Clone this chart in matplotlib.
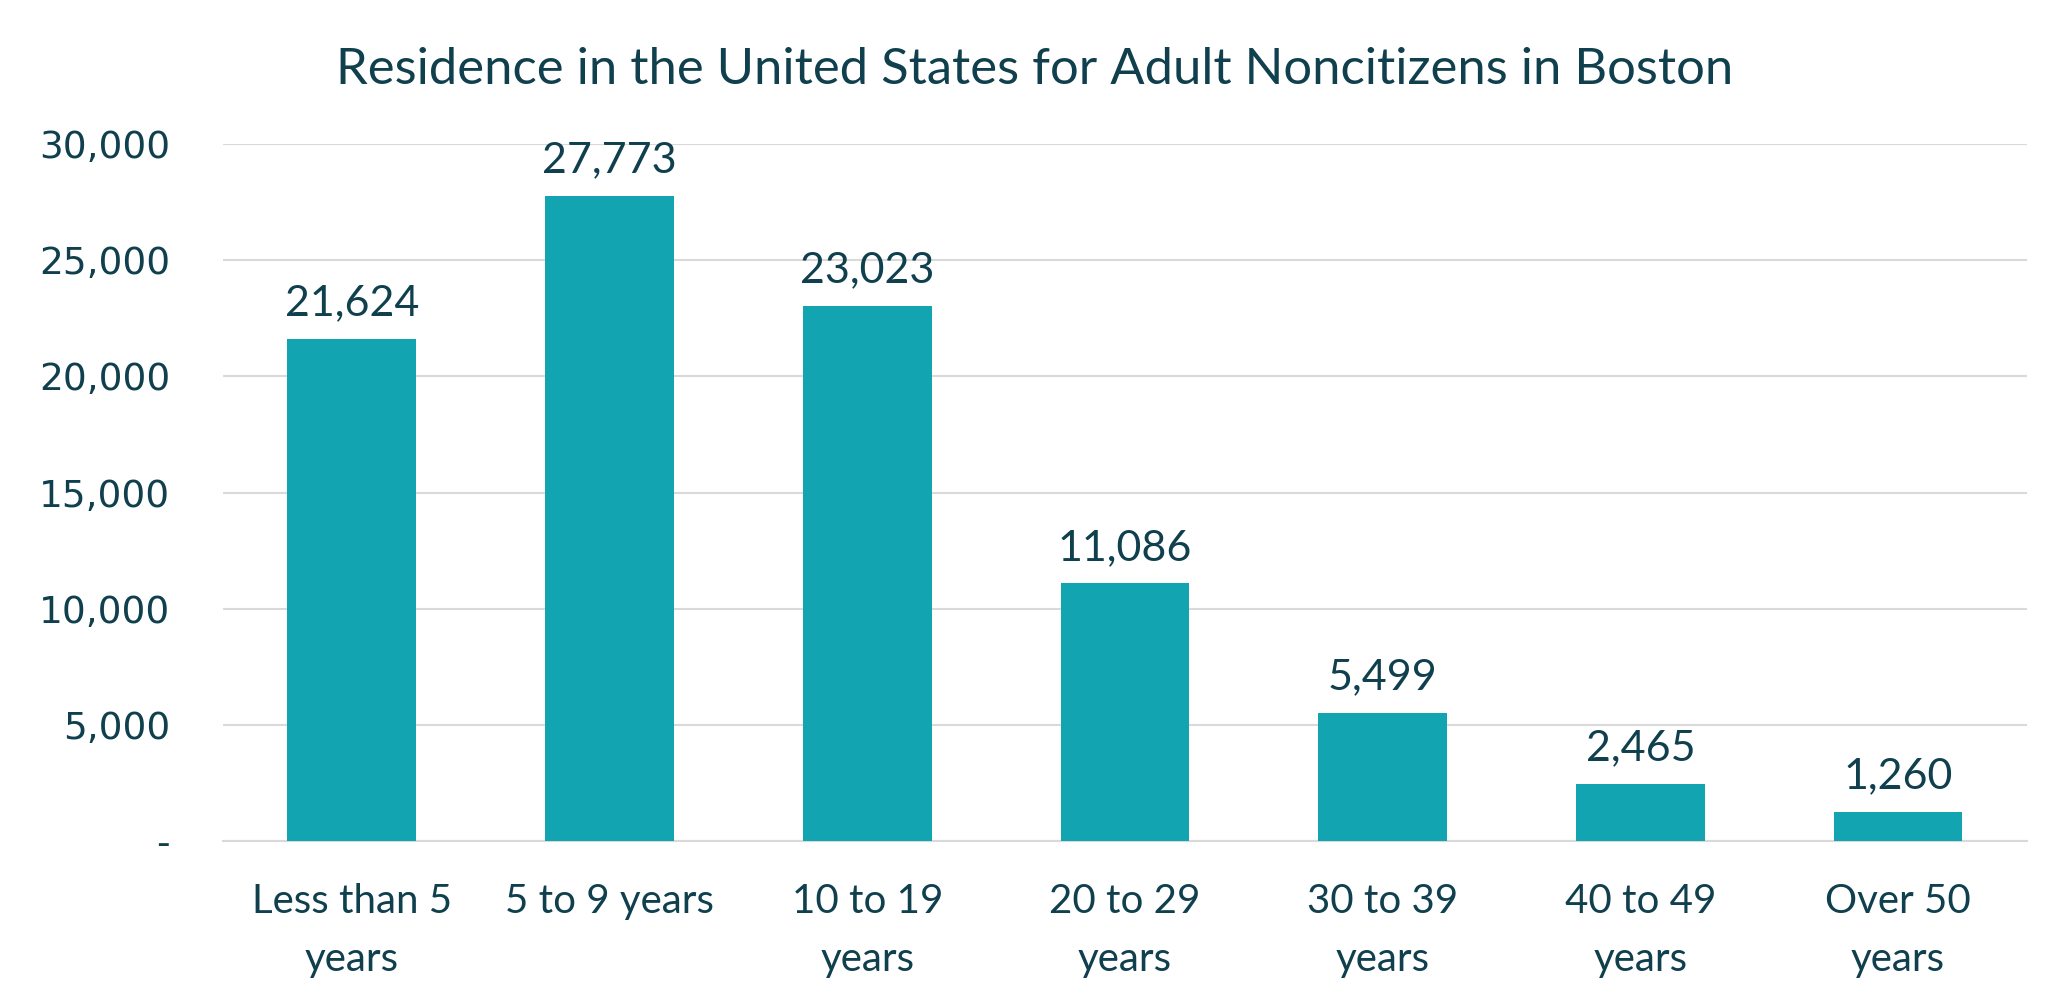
import matplotlib
matplotlib.use('Agg')
import matplotlib.pyplot as plt
from matplotlib.ticker import FuncFormatter, MultipleLocator

# chart data
categories = ['Less than 5\nyears', '5 to 9 years', '10 to 19\nyears', '20 to 29\nyears',
              '30 to 39\nyears', '40 to 49\nyears', 'Over 50\nyears']
residents = [21624, 27773, 23023, 11086, 5499, 2465, 1260]

bar_color = '#12A4B1'
text_color = '#10404E'
grid_color = '#D9D9D9'

fig = plt.figure(figsize=(20.53, 9.98), dpi=100)
ax = fig.add_axes([0.1086, 0.1573, 0.8787, 0.6984])

x = list(range(len(categories)))
bars = ax.bar(x, residents, width=0.5, color=bar_color, zorder=3)

# data labels above the bars
for xi, val in zip(x, residents):
    ax.annotate(f'{val:,}', (xi, val), xytext=(0, 12), textcoords='offset points',
                ha='center', va='bottom', fontsize=31, color=text_color, family='Lato')

ax.set_xlim(-0.5, len(categories) - 0.5)
ax.set_ylim(0, 30000)
ax.yaxis.set_major_locator(MultipleLocator(5000))
ax.yaxis.set_major_formatter(FuncFormatter(lambda v, p: '-' if v == 0 else f'{v:,.0f}'))
ax.grid(axis='y', color=grid_color, linewidth=1.5, zorder=0)
ax.set_axisbelow(True)

for s in ['top', 'right', 'left']:
    ax.spines[s].set_visible(False)
ax.spines['bottom'].set_color(grid_color)
ax.spines['bottom'].set_linewidth(1.5)

ax.set_xticks(x)
ax.set_xticklabels(categories, fontsize=29, color=text_color, family='Lato', linespacing=1.7)
ax.tick_params(axis='x', length=0, pad=30)
ax.tick_params(axis='y', length=0, pad=38, labelsize=27, labelcolor=text_color)

fig.text(0.504, 0.916, 'Residence in the United States for Adult Noncitizens in Boston',
         ha='center', va='baseline', fontsize=36.5, color=text_color, family='Lato')

fig.savefig('out.png', dpi=100, facecolor='white')
